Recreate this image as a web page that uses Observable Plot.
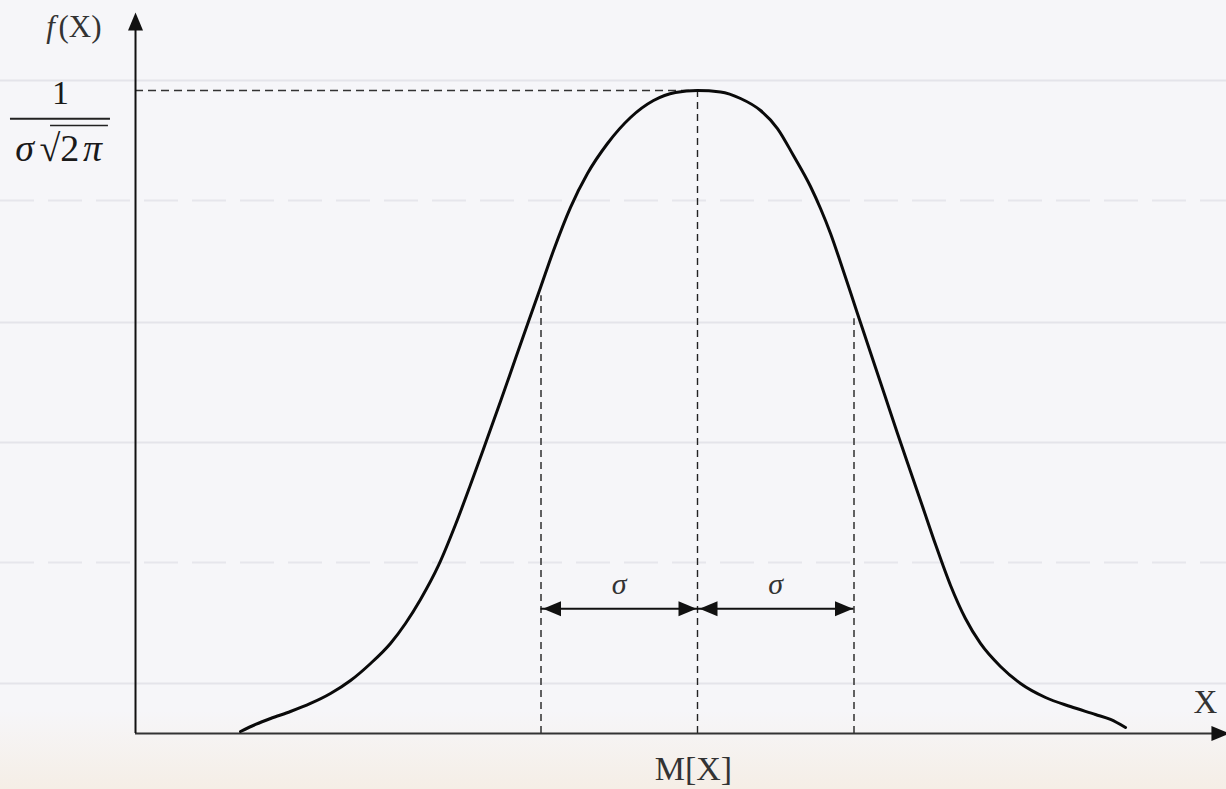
<!DOCTYPE html>
<html>
<head>
<meta charset="utf-8">
<script src="https://cdn.jsdelivr.net/npm/d3@7"></script>
<script src="https://cdn.jsdelivr.net/npm/@observablehq/plot@0.6"></script>
<style>
  html, body { margin: 0; padding: 0; }
  body {
    width: 1226px; height: 789px; overflow: hidden;
    background: linear-gradient(to bottom, #f6f6f9 0%, #f6f6f9 90%, #f5eee6 100%);
  }
  #chart svg { display: block; }
</style>
</head>
<body>
<div id="chart"></div>
<script>
// ---- Data (x in units of sigma from the mean, y relative to the peak density) ----
const curveX = [-2.920,-2.824,-2.728,-2.601,-2.473,-2.345,-2.217,-2.089,-1.962,-1.866,-1.770,-1.655,-1.546,
                -1.450,-1.355,-1.259,-1.163,-1.080,-1.003,-0.920,-0.812,-0.703,-0.575,-0.428,-0.281,-0.141,
                0.000,0.147,0.275,0.403,0.511,0.613,0.722,0.786,0.850,0.914,0.978,1.022,1.086,1.195,1.278,1.361,
                1.438,1.521,1.617,1.712,1.808,1.936,2.064,2.224,2.383,2.543,2.639,2.735];
const curveY = [0.0031,0.0140,0.0233,0.0342,0.0467,0.0622,0.0824,0.1089,0.1400,0.1711,0.2084,0.2613,0.3250,
                0.3872,0.4510,0.5163,0.5832,0.6407,0.6936,0.7512,0.8180,0.8709,0.9176,0.9580,0.9844,0.9969,
                1.0000,0.9977,0.9876,0.9689,0.9409,0.8989,0.8507,0.8165,0.7776,0.7325,0.6858,0.6532,0.6065,0.5272,
                0.4666,0.4075,0.3530,0.2939,0.2302,0.1788,0.1400,0.1042,0.0778,0.0560,0.0420,0.0295,0.0218,0.0093];

const guideX = [-1, 0, 1];                 // M[X]-σ, M[X], M[X]+σ
const guideTop = [0.681, 1.0, 0.645];      // where each dashed guide ends
const peakValue = 1.0;                     // 1/(σ√2π)
const sigmaSpans = [[-1, 0], [0, 1]];      // the two σ intervals
const sigmaLevel = 0.194;                  // height of the σ arrows
const sigmaLabels = ["σ", "σ"];
const paperLines = [1.0156, 0.8289, 0.6392, 0.4526, 0.2659, 0.0778];
const paperDashed = [false, true, false, false, true, false];

const curve = curveX.map((x, i) => ({x, y: curveY[i]}));
const guides = guideX.map((x, i) => ({x, top: guideTop[i]}));
const spans = sigmaSpans.map(([a, b], i) => ({a, b, mid: (a + b) / 2, label: sigmaLabels[i]}));
const paper = paperLines.map((y, i) => ({y, dashed: paperDashed[i]}));

// axis extents (data units)
const axisX0 = -3.591, axisXEnd = 3.399, axisYEnd = 1.1213;

// ---- filled arrowhead symbols (tip at origin) ----
const headRight = {draw(c) { c.moveTo(0, 0); c.lineTo(-18, -7.5); c.lineTo(-18, 7.5); c.closePath(); }};
const headLeft  = {draw(c) { c.moveTo(0, 0); c.lineTo(18, -7.5); c.lineTo(18, 7.5); c.closePath(); }};
const headUp    = {draw(c) { c.moveTo(0, 0); c.lineTo(-7.5, 18); c.lineTo(7.5, 18); c.closePath(); }};

const serif = "Liberation Serif, Times New Roman, serif";
const ink = "#1a1a1a";

const chart = Plot.plot({
  width: 1226,
  height: 789,
  margin: 0,
  style: {background: "transparent", fontFamily: serif},
  x: {domain: [-4.4537, 3.3802], axis: null},
  y: {domain: [-0.0871, 1.1400], axis: null},
  marks: [
    // faint paper lines
    Plot.ruleY(paper.filter(d => !d.dashed), {y: "y", stroke: "#e4e4ea", strokeWidth: 2}),
    Plot.ruleY(paper.filter(d => d.dashed), {y: "y", stroke: "#e6e6ec", strokeWidth: 2, strokeDasharray: "34,14"}),

    // dashed guides
    Plot.ruleX(guides, {x: "x", y1: 0, y2: "top", stroke: "#222", strokeWidth: 1.4, strokeDasharray: "7,5"}),
    Plot.ruleY([peakValue], {y: d => d, x1: axisX0, x2: 0, stroke: "#333", strokeWidth: 1.4, strokeDasharray: "8,5"}),

    // axes
    Plot.ruleY([0], {x1: axisX0, x2: axisXEnd, stroke: "#333", strokeWidth: 2}),
    Plot.ruleX([axisX0], {y1: 0, y2: axisYEnd - 0.02, stroke: "#111", strokeWidth: 2}),
    Plot.dot([0], {x: axisXEnd, y: 0, symbol: headRight, fill: "#111", stroke: "none"}),
    Plot.dot([0], {x: axisX0, y: axisYEnd, symbol: headUp, fill: "#111", stroke: "none"}),

    // σ arrows
    Plot.ruleY(spans, {y: sigmaLevel, x1: "a", x2: "b", stroke: "#111", strokeWidth: 2}),
    Plot.dot(spans, {x: "a", y: sigmaLevel, dx: 2, symbol: headLeft, fill: "#111", stroke: "none"}),
    Plot.dot(spans, {x: "b", y: sigmaLevel, dx: -1, symbol: headRight, fill: "#111", stroke: "none"}),
    Plot.text(spans, {x: "mid", y: 0.2177, text: "label", fontSize: 30, fontStyle: "italic",
                      fill: "#333", lineAnchor: "bottom", textAnchor: "middle"}),

    // the density curve
    Plot.line(curve, {x: "x", y: "y", curve: "monotone-x", stroke: "#0a0a0a", strokeWidth: 3}),

    // labels
    Plot.text(["f"], {x: -4.134, y: 1.084, text: d => d, fontSize: 31, fontStyle: "italic",
                      fill: "#333", lineAnchor: "bottom", textAnchor: "middle"}),
    Plot.text(["(X)"], {x: -4.083, y: 1.084, text: d => d, fontSize: 31,
                        fill: "#333", lineAnchor: "bottom", textAnchor: "start"}),
    Plot.text(["1"], {x: -4.070, y: 0.9798, text: d => d, fontSize: 34,
                      fill: ink, lineAnchor: "bottom", textAnchor: "middle"}),
    Plot.ruleY([0.9562], {y: d => d, x1: -4.390, x2: -3.751, stroke: "#222", strokeWidth: 2}),
    Plot.text(["σ"], {x: -4.300, y: 0.8911, text: d => d, fontSize: 38, fontStyle: "italic",
                      fill: ink, lineAnchor: "bottom", textAnchor: "middle"}),
    Plot.text(["√2"], {x: -4.205, y: 0.8911, text: d => d, fontSize: 38,
                       fill: ink, lineAnchor: "bottom", textAnchor: "start"}),
    Plot.text(["π"], {x: -3.866, y: 0.8911, text: d => d, fontSize: 38, fontStyle: "italic",
                      fill: ink, lineAnchor: "bottom", textAnchor: "middle"}),
    Plot.ruleY([0.9456], {y: d => d, x1: -4.134, x2: -3.764, stroke: "#222", strokeWidth: 1.6}),

    Plot.text(["X"], {x: 3.246, y: 0.0311, text: d => d, fontSize: 33,
                      fill: "#333", lineAnchor: "bottom", textAnchor: "middle"}),
    Plot.text(["M[X]"], {x: -0.026, y: -0.0731, text: d => d, fontSize: 34,
                         fill: "#333", lineAnchor: "bottom", textAnchor: "middle"})
  ]
});

document.getElementById("chart").append(chart);
</script>
</body>
</html>
